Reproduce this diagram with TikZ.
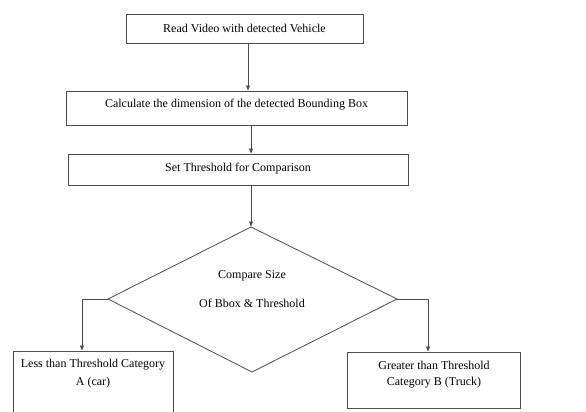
\documentclass[tikz,border=0pt]{standalone}
\usepackage{fontspec}
\setmainfont{Liberation Serif}
\usetikzlibrary{arrows.meta,shapes.geometric}
\begin{document}
\begin{tikzpicture}[x=1pt,y=-1pt,
  line/.style={draw=black!70,line width=0.8pt},
  arr/.style={line,-{Latex[length=5.5pt,width=4.5pt]}},
  stepbox/.style={line,rectangle,inner sep=0pt,font=\fontsize{12}{14}\selectfont},
  txt/.style={font=\fontsize{12}{14}\selectfont,inner sep=0pt}]
\useasboundingbox (0,0) rectangle (586,412);
\node[stepbox,minimum width=237pt,minimum height=29pt] (b1) at (244.5,28.5) {Read Video with detected Vehicle};
\node[stepbox,minimum width=341pt,minimum height=34pt,text depth=10pt] (b2) at (236.5,108) {Calculate the dimension of the detected Bounding Box};
\node[stepbox,minimum width=340pt,minimum height=31pt,text depth=4pt] (b3) at (238,169.5) {Set Threshold for Comparison};
\coordinate (dt) at (251,227);
\coordinate (dl) at (108,299);
\coordinate (dr) at (397,299);
\coordinate (db) at (252,372);
\draw[line] (dt) -- (dr) -- (db) -- (dl) -- cycle;
\node[txt] (d1) at (252,276) {Compare Size};
\node[txt] (d2) at (252,303) {Of Bbox \& Threshold};
\node[stepbox,minimum width=160pt,minimum height=64pt] (b4) at (93,383) {};
\node[stepbox,minimum width=173pt,minimum height=56pt] (b5) at (433.5,380) {};
\node[txt] (t4a) at (93,365) {Less than Threshold Category};
\node[txt] (t4b) at (93,383) {A (car)};
\node[txt] (t5a) at (434,365) {Greater than Threshold};
\node[txt] (t5b) at (434,383) {Category B (Truck)};
\draw[arr] (248,43) -- (248,91);
\draw[arr] (251,125) -- (251,154);
\draw[arr] (251,185) -- (dt);
\coordinate (lc) at (82,299);
\coordinate (rc) at (428,299);
\draw[arr] (dl) -- (lc) -- (82,351);
\draw[arr] (dr) -- (rc) -- (428,352);
\end{tikzpicture}
\end{document}
